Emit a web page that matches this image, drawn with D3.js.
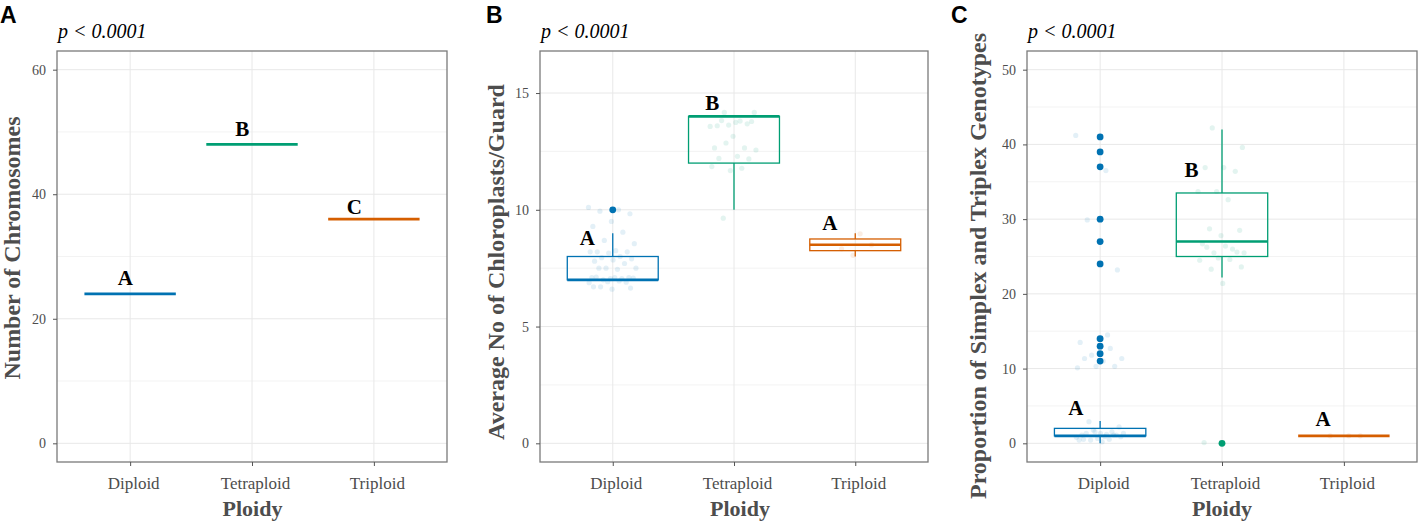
<!DOCTYPE html>
<html>
<head>
<meta charset="utf-8">
<script src="https://cdn.jsdelivr.net/npm/d3@7"></script>
<style>
  body { margin: 0; background: #fff; }
  svg text { font-family: "Liberation Serif", "Times New Roman", serif; }
</style>
</head>
<body>
<svg id="fig" width="1418" height="528"></svg>
<script>
// categories
var ploidy = ["Diploid", "Tetraploid", "Triploid"];

// A: number of chromosomes (single value per group)
var chromCount = [24, 48, 36];
var chromLetters = ["A", "B", "C"];
var chromLetterY = [25.4, 49.3, 36.8];

// B: average no of chloroplasts / guard cell
var chloroQ1 = [7, 12, 8.25];
var chloroMedian = [7, 14, 8.5];
var chloroQ3 = [8, 14, 8.75];
var chloroLow = [7, 10, 8];
var chloroHigh = [9, 14, 9];
var chloroOutliers = [[10], [], []];
var chloroDiploidPts = [10.1, 10.0, 9.94, 9.83, 9.5, 9.29, 9.04, 8.69, 8.55, 8.25, 8.2, 8.2, 8.15, 8.2, 8.0,
  7.95, 7.9, 7.85, 7.8, 7.7, 7.5, 7.5, 7.45, 7.5, 7.1, 7.05, 7.1, 7.05, 7.0, 7.08, 7.1, 7.12, 6.9, 6.92,
  6.88, 6.95, 6.7, 6.65, 6.6, 6.7];
var chloroTetraPts = [14.17, 14.17, 13.74, 13.6, 13.68, 13.63, 13.57, 13.8, 13.82, 13.78, 13.15, 12.65,
  12.65, 12.86, 12.56, 12.29, 12.2, 12.18, 11.68, 11.85, 11.78, 9.64];
var chloroTriPts = [8.97, 8.33, 8.5, 8.05];
var chloroLetters = ["A", "B", "A"];
var chloroLetterY = [8.5, 14.27, 9.12];

// C: proportion of simplex and triplex genotypes
var genoQ1 = [1, 25, 1];
var genoMedian = [1, 27, 1];
var genoQ3 = [2, 33.5, 1];
var genoLow = [0, 22.2, 1];
var genoHigh = [3, 42, 1];
var genoOutliers = [[11, 12, 13, 14, 24, 27, 30, 37, 39, 41], [0], []];
var genoDiploidPts = [41.2, 36.5, 29.9, 23.2, 14.0, 13.5, 12.7, 11.8, 11.35, 11.0, 11.35, 10.3, 10.3, 10.1,
  14.5, 2.9, 2.2, 1.33, 1.1, 1.55, 1.78, 1.33, 0.9, 1.33, 1.1, 0.66, 0.44, 0.53, 0.44, 0.88, 0.2, 0.53,
  1.1, 1.55, 0.8, 1.2];
var genoTetraPts = [42.2, 39.6, 36.9, 36.9, 36.4, 33.7, 33.7, 32.6, 28.7, 28.5, 27.8, 26.7, 26.0, 25.5,
  25.5, 26.4, 26.25, 25.6, 24.8, 24.5, 24.6, 23.3, 23.6, 21.4, 0.1];
var genoTriPts = [1, 1, 1];
var genoLetters = ["A", "B", "A"];
var genoLetterY = [3.78, 35.6, 2.31];

var colours = ["#0072B2", "#009E73", "#D55E00"];
var svg = d3.select("#fig");

function drawPanel(o) {
  var g = svg.append("g");
  var x = d3.scalePoint().domain(ploidy).range([o.left, o.right]).padding(0.6);
  var y = d3.scaleLinear().domain(o.domain).range([o.bottom, o.top]);
  var step = x.step();

  // grid
  g.selectAll(".minor").data(o.minor).enter().append("line")
    .attr("x1", o.left).attr("x2", o.right)
    .attr("y1", function(d) { return y(d); }).attr("y2", function(d) { return y(d); })
    .attr("stroke", "#f0f0f0").attr("stroke-width", 0.8);
  g.selectAll(".major").data(o.ticks).enter().append("line")
    .attr("x1", o.left).attr("x2", o.right)
    .attr("y1", function(d) { return y(d); }).attr("y2", function(d) { return y(d); })
    .attr("stroke", "#e8e8e8").attr("stroke-width", 1);
  g.selectAll(".vmajor").data(ploidy).enter().append("line")
    .attr("x1", function(d) { return x(d); }).attr("x2", function(d) { return x(d); })
    .attr("y1", o.top).attr("y2", o.bottom)
    .attr("stroke", "#e8e8e8").attr("stroke-width", 1);

  // jittered raw points
  o.points.forEach(function(pts, c) {
    g.selectAll(".pt" + c).data(pts).enter().append("circle")
      .attr("cx", function(d, i) { return x(ploidy[c]) + ((i * 0.618034 + 0.3 * c) % 1 - 0.5) * 0.4 * step; })
      .attr("cy", function(d) { return y(d); })
      .attr("r", 2.6)
      .attr("fill", colours[c]).attr("fill-opacity", 0.11);
  });

  // boxplots
  var bw = 0.75 * step;
  ploidy.forEach(function(p, c) {
    var cx = x(p), col = colours[c];
    g.append("line").attr("x1", cx).attr("x2", cx)
      .attr("y1", y(o.q3[c])).attr("y2", y(o.high[c]))
      .attr("stroke", col).attr("stroke-width", 1.3);
    g.append("line").attr("x1", cx).attr("x2", cx)
      .attr("y1", y(o.q1[c])).attr("y2", y(o.low[c]))
      .attr("stroke", col).attr("stroke-width", 1.3);
    g.append("rect").attr("x", cx - bw / 2).attr("width", bw)
      .attr("y", y(o.q3[c])).attr("height", y(o.q1[c]) - y(o.q3[c]))
      .attr("fill", "none").attr("stroke", col).attr("stroke-width", 1.3);
    g.append("line").attr("x1", cx - bw / 2).attr("x2", cx + bw / 2)
      .attr("y1", y(o.median[c])).attr("y2", y(o.median[c]))
      .attr("stroke", col).attr("stroke-width", 2.6);
    g.selectAll(".out" + c).data(o.outliers[c]).enter().append("circle")
      .attr("cx", cx).attr("cy", function(d) { return y(d); })
      .attr("r", 3.4).attr("fill", col);
    g.append("text")
      .attr("x", cx + o.letterDx[c] * step).attr("y", y(o.letterY[c]))
      .attr("text-anchor", "middle")
      .attr("font-size", 21).attr("font-weight", "bold").attr("fill", "#000")
      .text(o.letters[c]);
  });

  // border
  g.append("rect").attr("x", o.left).attr("y", o.top)
    .attr("width", o.right - o.left).attr("height", o.bottom - o.top)
    .attr("fill", "none").attr("stroke", "#7a7a7a").attr("stroke-width", 1.3);

  // axes
  var ya = g.append("g").attr("transform", "translate(" + o.left + ",0)")
    .call(d3.axisLeft(y).tickValues(o.ticks).tickSize(4).tickPadding(7));
  ya.select(".domain").remove();
  ya.selectAll("line").attr("stroke", "#555");
  ya.selectAll("text").attr("font-size", 14).attr("fill", "#4d4d4d")
    .style("font-family", '"Liberation Serif", "Times New Roman", serif');

  var xa = g.append("g").attr("transform", "translate(0," + o.bottom + ")")
    .call(d3.axisBottom(x).tickSize(4).tickPadding(11));
  xa.select(".domain").remove();
  xa.selectAll("line").attr("stroke", "#555");
  xa.selectAll("text").attr("font-size", 17).attr("fill", "#4d4d4d").attr("dx", 3)
    .style("font-family", '"Liberation Serif", "Times New Roman", serif');

  // titles
  g.append("text").attr("x", o.xTitleX).attr("y", 516)
    .attr("text-anchor", "middle").attr("font-size", 22).attr("font-weight", "bold")
    .attr("fill", "#4d4d4d").text("Ploidy");
  g.append("text")
    .attr("transform", "translate(" + o.yTitleX + "," + o.yTitleY + ") rotate(-90)")
    .attr("text-anchor", "middle").attr("font-size", 24).attr("font-weight", "bold")
    .attr("fill", "#4d4d4d").text(o.yTitle);
  g.append("text").attr("x", o.left + 1).attr("y", 38)
    .attr("font-size", 20).attr("font-style", "italic").attr("fill", "#000")
    .text("p < 0.0001");
  g.append("text").attr("x", o.tagX).attr("y", 23)
    .style("font-family", '"Liberation Sans", Arial, sans-serif')
    .attr("font-size", 23).attr("font-weight", "bold").attr("fill", "#000")
    .text(o.tag);
}

drawPanel({
  left: 57, right: 447, top: 51, bottom: 462,
  domain: [-3, 63], ticks: [0, 20, 40, 60], minor: [10, 30, 50],
  q1: chromCount, median: chromCount, q3: chromCount, low: chromCount, high: chromCount,
  outliers: [[], [], []], points: [[], [], []],
  letters: chromLetters, letterY: chromLetterY, letterDx: [-0.04, -0.08, -0.16],
  yTitle: "Number of Chromosomes", yTitleX: 20, yTitleY: 248, xTitleX: 252.5,
  tag: "A", tagX: 0
});

drawPanel({
  left: 540, right: 928, top: 51, bottom: 462,
  domain: [-0.8, 16.8], ticks: [0, 5, 10, 15], minor: [2.5, 7.5, 12.5],
  q1: chloroQ1, median: chloroMedian, q3: chloroQ3, low: chloroLow, high: chloroHigh,
  outliers: chloroOutliers, points: [chloroDiploidPts, chloroTetraPts, chloroTriPts],
  letters: chloroLetters, letterY: chloroLetterY, letterDx: [-0.21, -0.18, -0.21],
  yTitle: "Average No of Chloroplasts/Guard", yTitleX: 504, yTitleY: 262, xTitleX: 740,
  tag: "B", tagX: 486
});

drawPanel({
  left: 1027, right: 1417, top: 51, bottom: 462,
  domain: [-2.5, 52.5], ticks: [0, 10, 20, 30, 40, 50], minor: [5, 15, 25, 35, 45],
  q1: genoQ1, median: genoMedian, q3: genoQ3, low: genoLow, high: genoHigh,
  outliers: genoOutliers, points: [genoDiploidPts, genoTetraPts, genoTriPts],
  letters: genoLetters, letterY: genoLetterY, letterDx: [-0.2, -0.25, -0.17],
  yTitle: "Proportion of Simplex and Triplex Genotypes", yTitleX: 986, yTitleY: 266, xTitleX: 1222,
  tag: "C", tagX: 951
});
</script>
</body>
</html>
